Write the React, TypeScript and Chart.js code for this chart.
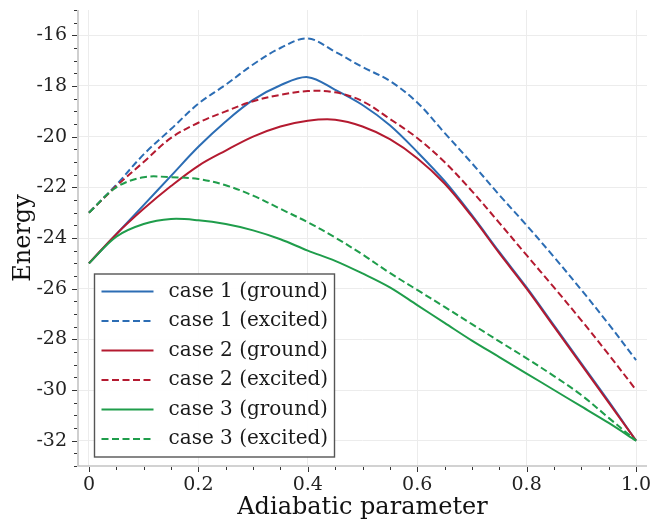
import React, { useEffect, useRef } from 'react';
import { Chart, registerables } from 'chart.js';

Chart.register(...registerables);

const FONT = "'DejaVu Serif', serif";

const X_VALUES = [0, 0.05, 0.1, 0.15, 0.2, 0.25, 0.3, 0.35, 0.4, 0.45, 0.5, 0.55, 0.6, 0.65, 0.7, 0.75, 0.8, 0.85, 0.9, 0.95, 1.0];

const case1Ground = [-25, -23.85, -22.7, -21.55, -20.4, -19.4, -18.55, -17.97, -17.65, -18.15, -18.75, -19.55, -20.6, -21.75, -23.1, -24.55, -25.95, -27.45, -28.95, -30.45, -32];
const case1Excited = [-23, -21.9, -20.7, -19.7, -18.7, -17.95, -17.15, -16.5, -16.12, -16.65, -17.25, -17.8, -18.65, -19.85, -21.05, -22.3, -23.5, -24.75, -26.05, -27.4, -28.82];
const case2Ground = [-25, -23.85, -22.85, -21.95, -21.15, -20.55, -20.0, -19.6, -19.37, -19.33, -19.6, -20.1, -20.85, -21.85, -23.15, -24.6, -26.0, -27.5, -29.0, -30.5, -32];
const case2Excited = [-23, -21.95, -21.0, -20.05, -19.45, -19.0, -18.6, -18.35, -18.2, -18.25, -18.6, -19.3, -20.05, -21.0, -22.15, -23.4, -24.68, -25.95, -27.25, -28.6, -30.0];
const case3Ground = [-25, -23.95, -23.45, -23.25, -23.3, -23.45, -23.7, -24.05, -24.5, -24.9, -25.4, -25.95, -26.65, -27.35, -28.05, -28.7, -29.35, -30.0, -30.65, -31.3, -32];
const case3Excited = [-23, -22.0, -21.6, -21.6, -21.67, -21.92, -22.33, -22.85, -23.38, -23.98, -24.65, -25.38, -26.05, -26.72, -27.4, -28.08, -28.75, -29.45, -30.2, -31.1, -32];

const SERIES_LABELS = ['case 1 (ground)', 'case 1 (excited)', 'case 2 (ground)', 'case 2 (excited)', 'case 3 (ground)', 'case 3 (excited)'];

const X_TICKS = [0, 0.2, 0.4, 0.6, 0.8, 1.0];
const X_TICK_LABELS = ['0', '0.2', '0.4', '0.6', '0.8', '1.0'];
const Y_TICKS = [-32, -30, -28, -26, -24, -22, -20, -18, -16];
const Y_TICK_LABELS = ['-32', '-30', '-28', '-26', '-24', '-22', '-20', '-18', '-16'];

const BLUE = '#2c6db4';
const RED = '#b41a30';
const GREEN = '#1f9d4b';
const DASH = [7, 3.5];

const axisPlugin = {
  id: 'mplAxes',
  afterDraw(chart: any) {
    const { ctx, chartArea, scales } = chart;
    const xs = scales.x;
    const ys = scales.y;
    ctx.save();
    ctx.strokeStyle = '#c4c4c4';
    ctx.lineWidth = 1.6;
    ctx.beginPath();
    ctx.moveTo(chartArea.left, chartArea.top);
    ctx.lineTo(chartArea.left, chartArea.bottom);
    ctx.lineTo(chartArea.right, chartArea.bottom);
    ctx.stroke();
    ctx.strokeStyle = '#333';
    ctx.lineWidth = 1;
    const drawX = (v: number, len: number) => {
      const px = Math.round(xs.getPixelForValue(v)) + 0.5;
      ctx.beginPath();
      ctx.moveTo(px, chartArea.bottom + 1);
      ctx.lineTo(px, chartArea.bottom + 1 + len);
      ctx.stroke();
    };
    const drawY = (v: number, len: number) => {
      const py = Math.round(ys.getPixelForValue(v)) + 0.5;
      ctx.beginPath();
      ctx.moveTo(chartArea.left - 1, py);
      ctx.lineTo(chartArea.left - 1 - len, py);
      ctx.stroke();
    };
    for (let k = 0; k <= 20; k++) {
      drawX(k * 0.05, k % 4 === 0 ? 5 : 3);
    }
    for (let k = 0; k <= 36; k++) {
      const v = ys.min + k * 0.5;
      if (v > ys.max + 1e-9) break;
      const major = Math.abs(v - Math.round(v)) < 1e-9 && Math.round(v) % 2 === 0;
      drawY(v, major ? 5 : 3);
    }
    ctx.restore();
  },
};

const legendPlugin = {
  id: 'boxLegend',
  afterDatasetsDraw(chart: any) {
    const { ctx, chartArea } = chart;
    const x0 = chartArea.left + 16.5;
    const w = 240;
    const h = 183;
    const y0 = chartArea.bottom - 9 - h;
    ctx.save();
    ctx.fillStyle = 'rgba(255,255,255,0.92)';
    ctx.fillRect(x0, y0, w, h);
    ctx.strokeStyle = '#555';
    ctx.lineWidth = 1.4;
    ctx.strokeRect(x0, y0, w, h);
    ctx.font = `20px ${FONT}`;
    ctx.textBaseline = 'middle';
    ctx.textAlign = 'left';
    chart.data.datasets.forEach((ds: any, i: number) => {
      const cy = y0 + 17.5 + i * 29.5;
      ctx.strokeStyle = ds.borderColor;
      ctx.lineWidth = 2;
      ctx.setLineDash(ds.borderDash || []);
      ctx.beginPath();
      ctx.moveTo(x0 + 7, cy);
      ctx.lineTo(x0 + 59, cy);
      ctx.stroke();
      ctx.setLineDash([]);
      ctx.fillStyle = '#1a1a1a';
      ctx.fillText(ds.label, x0 + 74, cy);
    });
    ctx.restore();
  },
};

export default function App() {
  const ref = useRef<HTMLCanvasElement>(null);
  useEffect(() => {
    document.body.style.margin = '0';
    const canvas = ref.current;
    if (!canvas) return;
    const mk = (label: string, ys: number[], color: string, dashed: boolean, order: number) => ({
      label,
      data: X_VALUES.map((x, i) => ({ x, y: ys[i] })),
      borderColor: color,
      backgroundColor: color,
      borderWidth: 2,
      borderDash: dashed ? DASH : [],
      pointRadius: 0,
      tension: 0.35,
      fill: false,
      order,
    });
    const chart = new Chart(canvas, {
      type: 'line',
      data: {
        datasets: [
          mk(SERIES_LABELS[0], case1Ground, BLUE, false, 5),
          mk(SERIES_LABELS[1], case1Excited, BLUE, true, 4),
          mk(SERIES_LABELS[2], case2Ground, RED, false, 3),
          mk(SERIES_LABELS[3], case2Excited, RED, true, 2),
          mk(SERIES_LABELS[4], case3Ground, GREEN, false, 1),
          mk(SERIES_LABELS[5], case3Excited, GREEN, true, 0),
        ],
      },
      options: {
        responsive: false,
        animation: false,
        layout: { padding: { top: 10, right: 17, left: 0, bottom: 0 } },
        plugins: { legend: { display: false }, tooltip: { enabled: false } },
        scales: {
          x: {
            type: 'linear',
            min: -0.02,
            max: 1.02,
            afterBuildTicks: (s: any) => {
              s.ticks = X_TICKS.map((v) => ({ value: v }));
            },
            afterFit: (s: any) => {
              s.height = 57;
              s.paddingLeft = 0;
              s.paddingRight = 0;
            },
            grid: { color: '#ececec', lineWidth: 1, drawTicks: false },
            border: { display: false },
            ticks: {
              padding: 8,
              color: '#222',
              autoSkip: false,
              maxRotation: 0,
              font: { family: FONT, size: 19 },
              callback: (v: any) => {
                const i = X_TICKS.findIndex((t) => Math.abs(t - Number(v)) < 1e-9);
                return i >= 0 ? X_TICK_LABELS[i] : '';
              },
            },
            title: {
              display: true,
              text: 'Adiabatic parameter',
              color: '#111',
              font: { family: FONT, size: 24 },
              padding: { top: 0, bottom: 1 },
            },
          },
          y: {
            type: 'linear',
            min: -33,
            max: -15,
            afterBuildTicks: (s: any) => {
              s.ticks = Y_TICKS.map((v) => ({ value: v }));
            },
            afterFit: (s: any) => {
              s.width = 78;
              s.paddingTop = 0;
              s.paddingBottom = 0;
            },
            grid: { color: '#ececec', lineWidth: 1, drawTicks: false },
            border: { display: false },
            ticks: {
              padding: 11,
              color: '#222',
              font: { family: FONT, size: 19 },
              callback: (v: any) => {
                const i = Y_TICKS.findIndex((t) => Math.abs(t - Number(v)) < 1e-9);
                return i >= 0 ? Y_TICK_LABELS[i] : '';
              },
            },
            title: {
              display: true,
              text: 'Energy',
              color: '#111',
              font: { family: FONT, size: 24 },
              padding: { top: 9, bottom: 0 },
            },
          },
        },
      },
      plugins: [axisPlugin, legendPlugin],
    } as any);
    return () => chart.destroy();
  }, []);
  return (
    <div style={{ width: 664, height: 523, position: 'relative' }}>
      <canvas ref={ref} width={664} height={523} style={{ display: 'block' }} />
    </div>
  );
}
